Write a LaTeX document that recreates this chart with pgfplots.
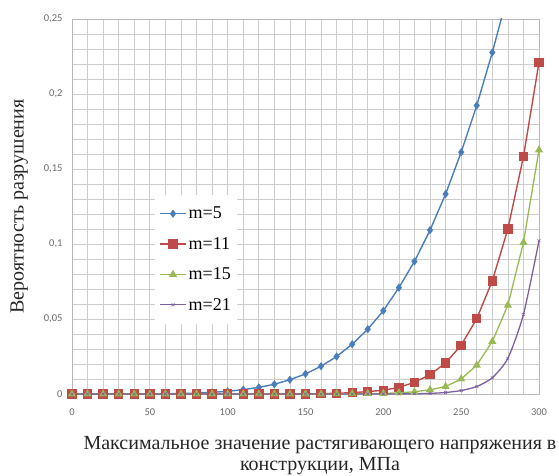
\documentclass[border=0pt]{standalone}
\usepackage{fontspec}
\setmainfont{Liberation Serif}
\newfontfamily\tickfont{Carlito}
\usepackage{pgfplots}
\pgfplotsset{compat=1.18}
\definecolor{cBlue}{HTML}{4A7EBB}
\definecolor{cRed}{HTML}{BE4B48}
\definecolor{cGreen}{HTML}{98B954}
\definecolor{cPurple}{HTML}{7D60A0}
\definecolor{cGrid}{HTML}{CDCDCD}
\begin{document}
\begin{tikzpicture}
\begin{axis}[
  scale only axis, width=467pt, height=375pt,
  xmin=0, xmax=300, ymin=0, ymax=0.25,
  xtick={0,50,...,300}, ytick={0,0.05,0.1,0.15,0.2,0.25},
  minor x tick num=4, minor y tick num=4,
  grid=both, grid style={draw=cGrid, line width=0.7pt},
  minor grid style={draw=cGrid, line width=0.7pt},
  major tick length=0pt, minor tick length=0pt,
  axis line style={draw=gray!55, line width=0.7pt},
  /pgf/number format/assume math mode=true,
  ticklabel style={font=\tickfont\fontsize{10.5}{12}\selectfont, text=gray!85!black},
  yticklabel style={/pgf/number format/.cd, use comma, fixed, precision=2, /tikz/.cd, xshift=-6pt},
  xticklabel style={yshift=-11pt},
  scaled y ticks=false,
  xlabel={Максимальное значение растягивающего напряжения в\\конструкции, МПа},
  xlabel style={at={(axis description cs:0.531,-0.163)}, anchor=center, align=center, font=\fontsize{20}{21}\selectfont, text=black!85},
  ylabel={Вероятность разрушения},
  ylabel style={at={(axis description cs:-0.113,0.5)}, anchor=center, font=\fontsize{20}{20}\selectfont, text=black!85},
  legend style={at={(0.178,0.531)}, anchor=north west, draw=none, fill=white,
    font=\fontsize{18}{20}\selectfont, row sep=13pt, inner xsep=4pt, inner ysep=10pt},
  legend cell align=left,
  legend image code/.code={\draw[mark repeat=2,mark phase=2] plot coordinates {(0pt,0pt) (13pt,0pt) (26pt,0pt)};},
]
\addplot[color=cBlue, line width=1.4pt, mark=diamond*, mark size=3pt, mark options={fill=cBlue}] coordinates {
(0,0) (10,0) (20,0.000001) (30,0.000004) (40,0.00002) (50,0.00006) (60,0.00014) (70,0.0003)
(80,0.0006) (90,0.0011) (100,0.0018) (110,0.0029) (120,0.0044) (130,0.0065) (140,0.0095)
(150,0.0134) (160,0.0185) (170,0.025) (180,0.0332) (190,0.0432) (200,0.0555) (210,0.0709)
(220,0.0884) (230,0.1092) (240,0.1333) (250,0.1612) (260,0.1923) (270,0.2277) (280,0.2665)
(290,0.3086) (300,0.354)};
\addlegendentry{m=5}
\addplot[color=cRed, line width=1.4pt, mark=square*, mark size=4pt, mark options={fill=cRed}] coordinates {
(0,0) (10,0) (20,0) (30,0) (40,0) (50,0) (60,0) (70,0) (80,0) (90,0) (100,0) (110,0)
(120,0) (130,0) (140,0) (150,0.0001) (160,0.0002) (170,0.0005) (180,0.0009) (190,0.0016)
(200,0.0025) (210,0.0044) (220,0.0078) (230,0.0129) (240,0.0207) (250,0.0325) (260,0.0502)
(270,0.0754) (280,0.1100) (290,0.1582) (300,0.2211)};
\addlegendentry{m=11\hspace{20pt}}
\addplot[color=cGreen, line width=1.3pt, mark=triangle*, mark size=3.4pt, mark options={fill=cGreen}] coordinates {
(0,0) (10,0) (20,0) (30,0) (40,0) (50,0) (60,0) (70,0) (80,0) (90,0) (100,0) (110,0)
(120,0) (130,0) (140,0) (150,0) (160,0) (170,0.0001) (180,0.0002) (190,0.0003)
(200,0.0004) (210,0.0008) (220,0.0015) (230,0.0028) (240,0.0050) (250,0.0100) (260,0.0192)
(270,0.0350) (280,0.0592) (290,0.1010) (300,0.1627)};
\addlegendentry{m=15}
\addplot[color=cPurple, line width=1.3pt, smooth, tension=0.4, mark=x, mark size=2pt, mark options={line width=0.6pt}] coordinates {
(0,0) (10,0) (20,0) (30,0) (40,0) (50,0) (60,0) (70,0) (80,0) (90,0) (100,0) (110,0)
(120,0) (130,0) (140,0) (150,0) (160,0) (170,0) (180,0) (190,0) (200,0.00002)
(210,0.00006) (220,0.00016) (230,0.0004) (240,0.0010) (250,0.0023) (260,0.0050)
(270,0.0108) (280,0.0238) (290,0.0530) (300,0.1022)};
\addlegendentry{m=21}
\end{axis}
\path (current axis.north east) ++(20pt,19pt) coordinate (tr);
\path (current axis.south west) ++(-72pt,-82pt) coordinate (bl);
\pgfresetboundingbox
\path[use as bounding box] (bl) rectangle (tr);
\end{tikzpicture}
\end{document}
